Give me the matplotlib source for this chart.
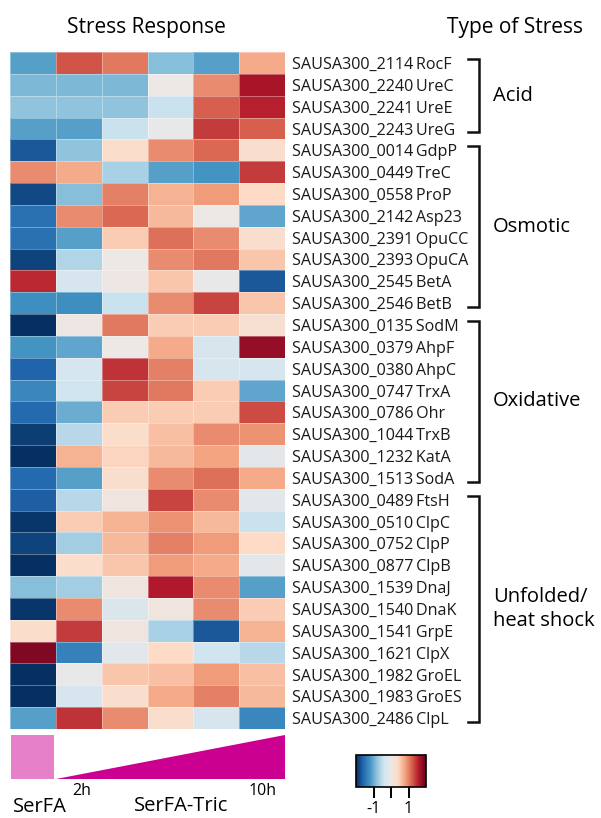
"""Stress response heatmap: SerFA vs SerFA-Tric time course"""

import matplotlib
matplotlib.use("Agg")
import matplotlib.pyplot as plt
import numpy as np
from matplotlib.colors import LinearSegmentedColormap
from matplotlib.patches import Rectangle, Polygon

plt.rcParams['font.family'] = ['Open Sans', 'DejaVu Sans']

genes = ["SAUSA300_2114", "SAUSA300_2240", "SAUSA300_2241", "SAUSA300_2243",
         "SAUSA300_0014", "SAUSA300_0449", "SAUSA300_0558", "SAUSA300_2142",
         "SAUSA300_2391", "SAUSA300_2393", "SAUSA300_2545", "SAUSA300_2546",
         "SAUSA300_0135", "SAUSA300_0379", "SAUSA300_0380", "SAUSA300_0747",
         "SAUSA300_0786", "SAUSA300_1044", "SAUSA300_1232", "SAUSA300_1513",
         "SAUSA300_0489", "SAUSA300_0510", "SAUSA300_0752", "SAUSA300_0877",
         "SAUSA300_1539", "SAUSA300_1540", "SAUSA300_1541", "SAUSA300_1621",
         "SAUSA300_1982", "SAUSA300_1983", "SAUSA300_2486"]
proteins = ["RocF", "UreC", "UreE", "UreG",
            "GdpP", "TreC", "ProP", "Asp23", "OpuCC", "OpuCA", "BetA", "BetB",
            "SodM", "AhpF", "AhpC", "TrxA", "Ohr", "TrxB", "KatA", "SodA",
            "FtsH", "ClpC", "ClpP", "ClpB", "DnaJ", "DnaK", "GrpE", "ClpX",
            "GroEL", "GroES", "ClpL"]

# z-scores, columns: SerFA, then SerFA-Tric 2h -> 10h
values = [
    [-1.10, 1.25, 1.05, -0.85, -1.10, 0.75],
    [-0.90, -0.90, -0.90, 0.00, 0.95, 1.65],
    [-0.80, -0.80, -0.80, -0.45, 1.20, 1.55],
    [-1.10, -1.10, -0.45, -0.05, 1.40, 1.20],
    [-1.70, -0.80, 0.35, 0.95, 1.15, 0.30],
    [0.95, 0.75, -0.65, -1.10, -1.20, 1.40],
    [-1.80, -0.85, 1.00, 0.70, 0.85, 0.40],
    [-1.50, 0.95, 1.15, 0.65, 0.00, -1.05],
    [-1.50, -1.10, 0.50, 1.10, 0.95, 0.30],
    [-1.85, -0.60, 0.00, 0.95, 1.05, 0.55],
    [1.50, -0.30, 0.05, 0.55, -0.05, -1.70],
    [-1.25, -1.25, -0.45, 0.95, 1.35, 0.55],
    [-2.00, 0.05, 1.05, 0.50, 0.50, 0.25],
    [-1.20, -1.05, 0.00, 0.75, -0.30, 1.75],
    [-1.60, -0.30, 1.45, 1.00, -0.30, -0.30],
    [-1.30, -0.40, 1.35, 1.05, 0.50, -1.05],
    [-1.55, -1.00, 0.50, 0.50, 0.50, 1.30],
    [-1.90, -0.55, 0.35, 0.60, 0.95, 0.90],
    [-2.00, 0.70, 0.45, 0.65, 0.80, -0.10],
    [-1.55, -1.10, 0.30, 0.95, 1.10, 0.75],
    [-1.65, -0.55, 0.10, 1.35, 0.95, -0.15],
    [-1.95, 0.50, 0.70, 0.90, 0.65, -0.45],
    [-1.85, -0.70, 0.65, 1.00, 0.85, 0.40],
    [-2.00, 0.35, 0.55, 0.85, 0.75, -0.10],
    [-0.85, -0.70, 0.10, 1.60, 0.95, -1.10],
    [-1.95, 0.95, -0.25, 0.10, 0.95, 0.50],
    [0.35, 1.40, 0.10, -0.65, -1.70, 0.70],
    [1.85, -1.35, -0.15, 0.40, -0.40, -0.55],
    [-2.00, -0.05, 0.55, 0.60, 0.85, 0.60],
    [-2.00, -0.30, 0.30, 0.75, 1.00, 0.65],
    [-1.10, 1.45, 0.95, 0.30, -0.30, -1.30],
]

group_names = ["Acid", "Osmotic", "Oxidative", "Unfolded/\nheat shock"]
group_sizes = [4, 8, 8, 11]

cbar_ticks = [-1, 0, 1]
cbar_labels = ["-1", "", "1"]

data = np.array(values)
n_rows, n_cols = data.shape

cmap = LinearSegmentedColormap.from_list(
    "rdbu_soft",
    ['#053061', '#2166ac', '#4393c3', '#92c5de', '#d1e5f0', '#ebe8e6',
     '#fddbc7', '#f4a582', '#d6604d', '#b2182b', '#67001f'])

W, H = 601, 818
fig = plt.figure(figsize=(W / 100, H / 100), dpi=100)

# pixel-space overlay
over = fig.add_axes([0, 0, 1, 1])
over.set_xlim(0, W)
over.set_ylim(H, 0)
over.axis('off')

hm_left, hm_right, hm_top, hm_bot = 10, 285, 52, 729
row_h = (hm_bot - hm_top) / n_rows

ax = fig.add_axes([hm_left / W, 1 - hm_bot / H,
                   (hm_right - hm_left) / W, (hm_bot - hm_top) / H])
mesh = ax.pcolormesh(data, cmap=cmap, vmin=-2, vmax=2,
                     edgecolors=(1, 1, 1, 0.35), linewidth=0.4)
ax.set_xlim(0, n_cols)
ax.set_ylim(n_rows, 0)
ax.set_xticks([])
ax.yaxis.tick_right()
ax.set_yticks(np.arange(n_rows) + 0.5)
ax.set_yticklabels([f"{g}\u2009{p}" for g, p in zip(genes, proteins)],
                   fontsize=11.6, color='#1a1a1a')
ax.tick_params(axis='y', length=0, pad=5)
for s in ax.spines.values():
    s.set_visible(False)

# titles
over.text(146, 27, "Stress Response", fontsize=15, ha='center', va='center')
over.text(515, 27, "Type of Stress", fontsize=15, ha='center', va='center')

# group brackets
start = 0
for name, size in zip(group_names, group_sizes):
    y0 = hm_top + start * row_h + 7
    y1 = hm_top + (start + size) * row_h - 7
    over.plot([468, 479, 479, 468], [y0, y0, y1, y1], color='#111111',
              lw=1.8, solid_joinstyle='miter')
    yc = hm_top + (start + size / 2) * row_h
    over.text(493, yc, name, fontsize=14.5, ha='left', va='center',
              linespacing=1.25)
    start += size

# treatment annotation
over.add_patch(Rectangle((11, 735), 43, 44, facecolor='#e680c8',
                         edgecolor='none'))
over.add_patch(Polygon([(56, 779), (285, 735), (285, 779)], closed=True,
                       facecolor='#cc0090', edgecolor='none'))
over.text(82, 791, "2h", fontsize=11.5, ha='center', va='center')
over.text(263, 791, "10h", fontsize=11.5, ha='center', va='center')
over.text(40, 807, "SerFA", fontsize=14.5, ha='center', va='center')
over.text(181, 806, "SerFA-Tric", fontsize=14.5, ha='center', va='center')

# colour key
cax = fig.add_axes([356 / W, 1 - 787 / H, 70 / W, 32 / H])
cb = fig.colorbar(mesh, cax=cax, orientation='horizontal', ticks=cbar_ticks)
cb.set_ticklabels(cbar_labels)
cb.outline.set_linewidth(1.2)
cax.tick_params(length=8, width=1.4, pad=2)
for lbl in cax.get_xticklabels():
    lbl.set_fontsize(11.5)

fig.savefig("out.png", dpi=100)
